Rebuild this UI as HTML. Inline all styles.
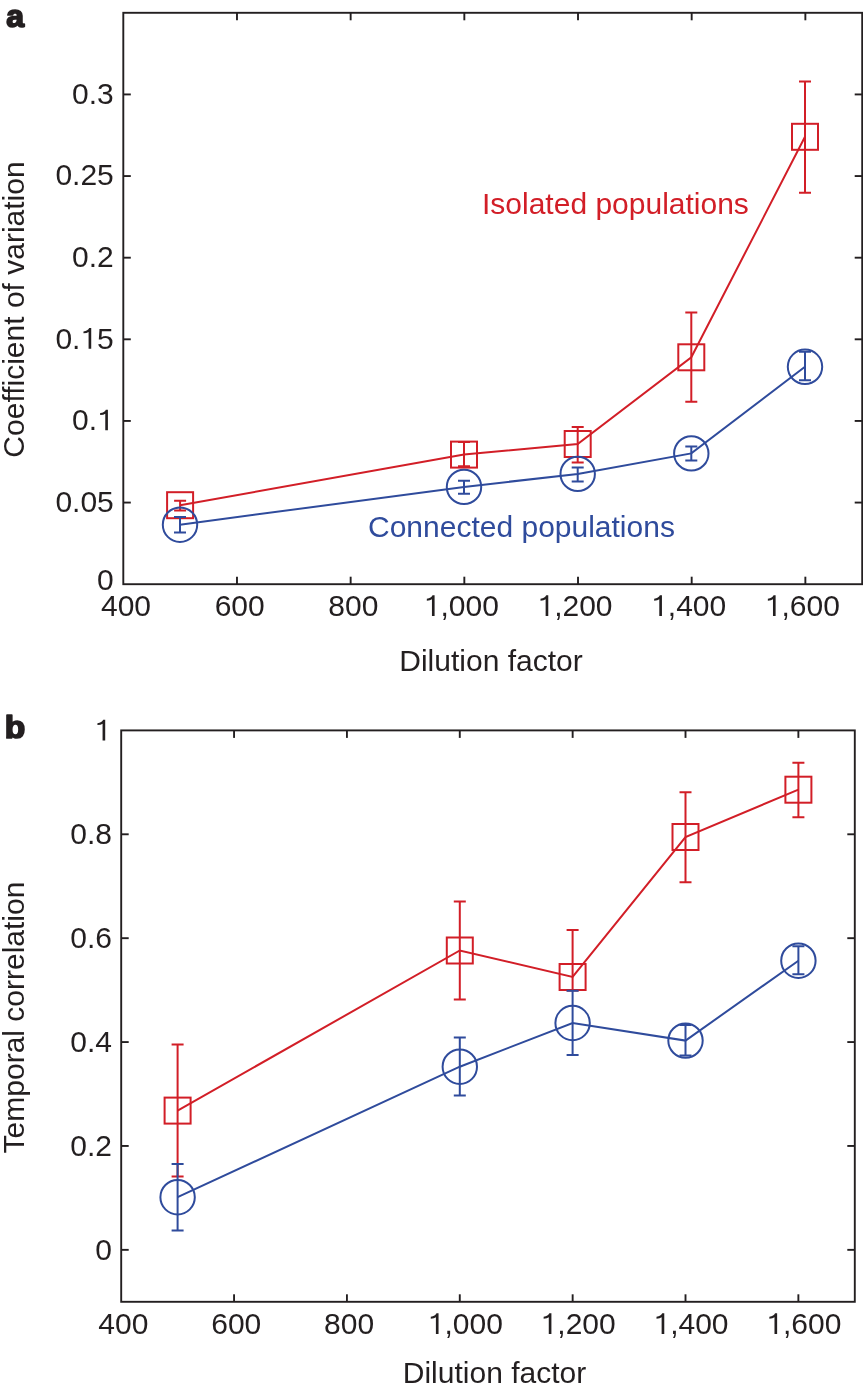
<!DOCTYPE html>
<html><head><meta charset="utf-8"><style>
html,body{margin:0;padding:0;background:#fff;}
body{width:863px;height:1389px;overflow:hidden;}
svg{display:block;will-change:transform;}
.one{fill-opacity:0;}
.t{font-family:"Liberation Sans",sans-serif;font-size:30px;fill:#231f20;}
.p{font-family:"Liberation Sans",sans-serif;font-size:30.5px;font-weight:bold;fill:#231f20;stroke:#231f20;stroke-width:1.7px;stroke-linejoin:round;}
</style></head><body>
<svg width="863" height="1389" viewBox="0 0 863 1389">
<rect width="863" height="1389" fill="#fff"/>
<rect x="123.3" y="12.8" width="738.9000000000001" height="571.4000000000001" fill="none" stroke="#231f20" stroke-width="1.9"/>
<line x1="236.98" y1="584.2" x2="236.98" y2="576.7" stroke="#231f20" stroke-width="1.9"/>
<line x1="236.98" y1="12.8" x2="236.98" y2="20.3" stroke="#231f20" stroke-width="1.9"/>
<line x1="350.65" y1="584.2" x2="350.65" y2="576.7" stroke="#231f20" stroke-width="1.9"/>
<line x1="350.65" y1="12.8" x2="350.65" y2="20.3" stroke="#231f20" stroke-width="1.9"/>
<line x1="464.33" y1="584.2" x2="464.33" y2="576.7" stroke="#231f20" stroke-width="1.9"/>
<line x1="464.33" y1="12.8" x2="464.33" y2="20.3" stroke="#231f20" stroke-width="1.9"/>
<line x1="578.01" y1="584.2" x2="578.01" y2="576.7" stroke="#231f20" stroke-width="1.9"/>
<line x1="578.01" y1="12.8" x2="578.01" y2="20.3" stroke="#231f20" stroke-width="1.9"/>
<line x1="691.68" y1="584.2" x2="691.68" y2="576.7" stroke="#231f20" stroke-width="1.9"/>
<line x1="691.68" y1="12.8" x2="691.68" y2="20.3" stroke="#231f20" stroke-width="1.9"/>
<line x1="805.36" y1="584.2" x2="805.36" y2="576.7" stroke="#231f20" stroke-width="1.9"/>
<line x1="805.36" y1="12.8" x2="805.36" y2="20.3" stroke="#231f20" stroke-width="1.9"/>
<line x1="123.3" y1="502.57" x2="130.8" y2="502.57" stroke="#231f20" stroke-width="1.9"/>
<line x1="862.2" y1="502.57" x2="854.7" y2="502.57" stroke="#231f20" stroke-width="1.9"/>
<line x1="123.3" y1="420.94" x2="130.8" y2="420.94" stroke="#231f20" stroke-width="1.9"/>
<line x1="862.2" y1="420.94" x2="854.7" y2="420.94" stroke="#231f20" stroke-width="1.9"/>
<line x1="123.3" y1="339.31" x2="130.8" y2="339.31" stroke="#231f20" stroke-width="1.9"/>
<line x1="862.2" y1="339.31" x2="854.7" y2="339.31" stroke="#231f20" stroke-width="1.9"/>
<line x1="123.3" y1="257.69" x2="130.8" y2="257.69" stroke="#231f20" stroke-width="1.9"/>
<line x1="862.2" y1="257.69" x2="854.7" y2="257.69" stroke="#231f20" stroke-width="1.9"/>
<line x1="123.3" y1="176.06" x2="130.8" y2="176.06" stroke="#231f20" stroke-width="1.9"/>
<line x1="862.2" y1="176.06" x2="854.7" y2="176.06" stroke="#231f20" stroke-width="1.9"/>
<line x1="123.3" y1="94.43" x2="130.8" y2="94.43" stroke="#231f20" stroke-width="1.9"/>
<line x1="862.2" y1="94.43" x2="854.7" y2="94.43" stroke="#231f20" stroke-width="1.9"/>
<text x="126.00" y="616" text-anchor="middle" class="t">400</text>
<text x="239.68" y="616" text-anchor="middle" class="t">600</text>
<text x="353.35" y="616" text-anchor="middle" class="t">800</text>
<text x="461.33" y="616" text-anchor="middle" class="t"><tspan class="one">1</tspan>,000</text>
<text x="575.01" y="616" text-anchor="middle" class="t"><tspan class="one">1</tspan>,200</text>
<text x="688.68" y="616" text-anchor="middle" class="t"><tspan class="one">1</tspan>,400</text>
<text x="802.36" y="616" text-anchor="middle" class="t"><tspan class="one">1</tspan>,600</text>
<text x="113.8" y="589.60" text-anchor="end" class="t">0</text>
<text x="113.8" y="511.97" text-anchor="end" class="t">0.05</text>
<text x="113.8" y="430.34" text-anchor="end" class="t">0.<tspan class="one">1</tspan></text>
<text x="113.8" y="348.71" text-anchor="end" class="t">0.<tspan class="one">1</tspan>5</text>
<text x="113.8" y="267.09" text-anchor="end" class="t">0.2</text>
<text x="113.8" y="185.46" text-anchor="end" class="t">0.25</text>
<text x="113.8" y="103.83" text-anchor="end" class="t">0.3</text>
<text x="0" y="0" transform="translate(24.3,309.5) rotate(-90)" text-anchor="middle" class="t">Coefficient of variation</text>
<path d="M180.10,505.20 L464.00,454.60 L577.70,444.00 L691.30,357.30 L805.00,136.80" fill="none" stroke="#d21e27" stroke-width="2.0" stroke-linejoin="miter"/>
<path d="M180.10,500.70V510.60M174.10,500.70H186.10M174.10,510.60H186.10" fill="none" stroke="#d21e27" stroke-width="2.0"/>
<rect x="167.10" y="492.20" width="26.00" height="26.00" fill="none" stroke="#d21e27" stroke-width="2.0"/>
<path d="M464.00,442.00V466.30M458.00,442.00H470.00M458.00,466.30H470.00" fill="none" stroke="#d21e27" stroke-width="2.0"/>
<rect x="451.00" y="441.60" width="26.00" height="26.00" fill="none" stroke="#d21e27" stroke-width="2.0"/>
<path d="M577.70,427.00V462.40M571.70,427.00H583.70M571.70,462.40H583.70" fill="none" stroke="#d21e27" stroke-width="2.0"/>
<rect x="564.70" y="431.00" width="26.00" height="26.00" fill="none" stroke="#d21e27" stroke-width="2.0"/>
<path d="M691.30,312.60V401.70M685.30,312.60H697.30M685.30,401.70H697.30" fill="none" stroke="#d21e27" stroke-width="2.0"/>
<rect x="678.30" y="344.30" width="26.00" height="26.00" fill="none" stroke="#d21e27" stroke-width="2.0"/>
<path d="M805.00,81.50V192.80M799.00,81.50H811.00M799.00,192.80H811.00" fill="none" stroke="#d21e27" stroke-width="2.0"/>
<rect x="792.00" y="123.80" width="26.00" height="26.00" fill="none" stroke="#d21e27" stroke-width="2.0"/>
<path d="M180.00,524.70 L464.00,486.90 L577.70,473.90 L691.30,453.40 L805.00,366.80" fill="none" stroke="#2f4b9c" stroke-width="2.0" stroke-linejoin="miter"/>
<path d="M180.00,517.00V532.60M174.00,517.00H186.00M174.00,532.60H186.00" fill="none" stroke="#2f4b9c" stroke-width="2.0"/>
<circle cx="180.00" cy="524.70" r="17.2" fill="none" stroke="#2f4b9c" stroke-width="2.0"/>
<path d="M464.00,480.70V493.70M458.00,480.70H470.00M458.00,493.70H470.00" fill="none" stroke="#2f4b9c" stroke-width="2.0"/>
<circle cx="464.00" cy="486.90" r="17.2" fill="none" stroke="#2f4b9c" stroke-width="2.0"/>
<path d="M577.70,467.50V481.40M571.70,467.50H583.70M571.70,481.40H583.70" fill="none" stroke="#2f4b9c" stroke-width="2.0"/>
<circle cx="577.70" cy="473.90" r="17.2" fill="none" stroke="#2f4b9c" stroke-width="2.0"/>
<path d="M691.30,446.60V460.40M685.30,446.60H697.30M685.30,460.40H697.30" fill="none" stroke="#2f4b9c" stroke-width="2.0"/>
<circle cx="691.30" cy="453.40" r="17.2" fill="none" stroke="#2f4b9c" stroke-width="2.0"/>
<path d="M805.00,351.70V380.30M799.00,351.70H811.00M799.00,380.30H811.00" fill="none" stroke="#2f4b9c" stroke-width="2.0"/>
<circle cx="805.00" cy="366.80" r="17.2" fill="none" stroke="#2f4b9c" stroke-width="2.0"/>
<rect x="121.2" y="730.4" width="733.5999999999999" height="571.4" fill="none" stroke="#231f20" stroke-width="1.9"/>
<line x1="234.06" y1="1301.8" x2="234.06" y2="1294.3" stroke="#231f20" stroke-width="1.9"/>
<line x1="234.06" y1="730.4" x2="234.06" y2="737.9" stroke="#231f20" stroke-width="1.9"/>
<line x1="346.92" y1="1301.8" x2="346.92" y2="1294.3" stroke="#231f20" stroke-width="1.9"/>
<line x1="346.92" y1="730.4" x2="346.92" y2="737.9" stroke="#231f20" stroke-width="1.9"/>
<line x1="459.78" y1="1301.8" x2="459.78" y2="1294.3" stroke="#231f20" stroke-width="1.9"/>
<line x1="459.78" y1="730.4" x2="459.78" y2="737.9" stroke="#231f20" stroke-width="1.9"/>
<line x1="572.65" y1="1301.8" x2="572.65" y2="1294.3" stroke="#231f20" stroke-width="1.9"/>
<line x1="572.65" y1="730.4" x2="572.65" y2="737.9" stroke="#231f20" stroke-width="1.9"/>
<line x1="685.51" y1="1301.8" x2="685.51" y2="1294.3" stroke="#231f20" stroke-width="1.9"/>
<line x1="685.51" y1="730.4" x2="685.51" y2="737.9" stroke="#231f20" stroke-width="1.9"/>
<line x1="798.37" y1="1301.8" x2="798.37" y2="1294.3" stroke="#231f20" stroke-width="1.9"/>
<line x1="798.37" y1="730.4" x2="798.37" y2="737.9" stroke="#231f20" stroke-width="1.9"/>
<line x1="121.2" y1="1249.85" x2="128.7" y2="1249.85" stroke="#231f20" stroke-width="1.9"/>
<line x1="854.8" y1="1249.85" x2="847.3" y2="1249.85" stroke="#231f20" stroke-width="1.9"/>
<line x1="121.2" y1="1145.96" x2="128.7" y2="1145.96" stroke="#231f20" stroke-width="1.9"/>
<line x1="854.8" y1="1145.96" x2="847.3" y2="1145.96" stroke="#231f20" stroke-width="1.9"/>
<line x1="121.2" y1="1042.07" x2="128.7" y2="1042.07" stroke="#231f20" stroke-width="1.9"/>
<line x1="854.8" y1="1042.07" x2="847.3" y2="1042.07" stroke="#231f20" stroke-width="1.9"/>
<line x1="121.2" y1="938.18" x2="128.7" y2="938.18" stroke="#231f20" stroke-width="1.9"/>
<line x1="854.8" y1="938.18" x2="847.3" y2="938.18" stroke="#231f20" stroke-width="1.9"/>
<line x1="121.2" y1="834.29" x2="128.7" y2="834.29" stroke="#231f20" stroke-width="1.9"/>
<line x1="854.8" y1="834.29" x2="847.3" y2="834.29" stroke="#231f20" stroke-width="1.9"/>
<text x="123.40" y="1334" text-anchor="middle" class="t">400</text>
<text x="236.26" y="1334" text-anchor="middle" class="t">600</text>
<text x="349.12" y="1334" text-anchor="middle" class="t">800</text>
<text x="465.28" y="1334" text-anchor="middle" class="t"><tspan class="one">1</tspan>,000</text>
<text x="578.15" y="1334" text-anchor="middle" class="t"><tspan class="one">1</tspan>,200</text>
<text x="691.01" y="1334" text-anchor="middle" class="t"><tspan class="one">1</tspan>,400</text>
<text x="803.87" y="1334" text-anchor="middle" class="t"><tspan class="one">1</tspan>,600</text>
<text x="112" y="1259.85" text-anchor="end" class="t">0</text>
<text x="112" y="1155.96" text-anchor="end" class="t">0.2</text>
<text x="112" y="1052.07" text-anchor="end" class="t">0.4</text>
<text x="112" y="948.18" text-anchor="end" class="t">0.6</text>
<text x="112" y="844.29" text-anchor="end" class="t">0.8</text>
<text x="111.1" y="740.40" text-anchor="end" class="t"><tspan class="one">1</tspan></text>
<text x="0" y="0" transform="translate(24.2,1017.5) rotate(-90)" text-anchor="middle" class="t">Temporal correlation</text>
<path d="M177.60,1110.60 L459.80,950.50 L572.60,977.00 L685.50,837.00 L798.40,789.70" fill="none" stroke="#d21e27" stroke-width="2.0" stroke-linejoin="miter"/>
<path d="M177.60,1044.60V1176.60M171.60,1044.60H183.60M171.60,1176.60H183.60" fill="none" stroke="#d21e27" stroke-width="2.0"/>
<rect x="164.60" y="1097.60" width="26.00" height="26.00" fill="none" stroke="#d21e27" stroke-width="2.0"/>
<path d="M459.80,901.60V999.40M453.80,901.60H465.80M453.80,999.40H465.80" fill="none" stroke="#d21e27" stroke-width="2.0"/>
<rect x="446.80" y="937.50" width="26.00" height="26.00" fill="none" stroke="#d21e27" stroke-width="2.0"/>
<path d="M572.60,929.90V990.60M566.60,929.90H578.60M566.60,990.60H578.60" fill="none" stroke="#d21e27" stroke-width="2.0"/>
<rect x="559.60" y="964.00" width="26.00" height="26.00" fill="none" stroke="#d21e27" stroke-width="2.0"/>
<path d="M685.50,792.20V882.30M679.50,792.20H691.50M679.50,882.30H691.50" fill="none" stroke="#d21e27" stroke-width="2.0"/>
<rect x="672.50" y="824.00" width="26.00" height="26.00" fill="none" stroke="#d21e27" stroke-width="2.0"/>
<path d="M798.40,762.70V817.20M792.40,762.70H804.40M792.40,817.20H804.40" fill="none" stroke="#d21e27" stroke-width="2.0"/>
<rect x="785.40" y="776.70" width="26.00" height="26.00" fill="none" stroke="#d21e27" stroke-width="2.0"/>
<path d="M177.60,1197.20 L459.80,1066.70 L572.60,1023.00 L685.50,1040.60 L798.40,960.70" fill="none" stroke="#2f4b9c" stroke-width="2.0" stroke-linejoin="miter"/>
<path d="M177.60,1164.00V1230.60M171.60,1164.00H183.60M171.60,1230.60H183.60" fill="none" stroke="#2f4b9c" stroke-width="2.0"/>
<circle cx="177.60" cy="1197.20" r="17.2" fill="none" stroke="#2f4b9c" stroke-width="2.0"/>
<path d="M459.80,1037.60V1095.60M453.80,1037.60H465.80M453.80,1095.60H465.80" fill="none" stroke="#2f4b9c" stroke-width="2.0"/>
<circle cx="459.80" cy="1066.70" r="17.2" fill="none" stroke="#2f4b9c" stroke-width="2.0"/>
<path d="M572.60,990.80V1055.00M566.60,990.80H578.60M566.60,1055.00H578.60" fill="none" stroke="#2f4b9c" stroke-width="2.0"/>
<circle cx="572.60" cy="1023.00" r="17.2" fill="none" stroke="#2f4b9c" stroke-width="2.0"/>
<path d="M685.50,1025.10V1055.40M679.50,1025.10H691.50M679.50,1055.40H691.50" fill="none" stroke="#2f4b9c" stroke-width="2.0"/>
<circle cx="685.50" cy="1040.60" r="17.2" fill="none" stroke="#2f4b9c" stroke-width="2.0"/>
<path d="M798.40,946.30V974.30M792.40,946.30H804.40M792.40,974.30H804.40" fill="none" stroke="#2f4b9c" stroke-width="2.0"/>
<circle cx="798.40" cy="960.70" r="17.2" fill="none" stroke="#2f4b9c" stroke-width="2.0"/>
<text x="491" y="670.5" text-anchor="middle" class="t">Dilution factor</text>
<text x="494.5" y="1383" text-anchor="middle" class="t">Dilution factor</text>
<text x="482" y="213.6" class="t" fill="#d21e27" style="fill:#d21e27">Isolated populations</text>
<text x="368" y="536.6" class="t" style="fill:#2f4b9c">Connected populations</text>
<text transform="translate(6.3,27.2) scale(1.05,1)" class="p">a</text>
<text transform="translate(4.8,738) scale(1.1,1)" class="p">b</text>
<path d="M431.95,616.00L434.59,616.00L434.59,595.36L432.55,595.36Q431.35,598.00 426.82,598.75L426.82,600.64Q430.45,600.43 431.95,599.29Z" fill="#231f20"/><path d="M545.63,616.00L548.27,616.00L548.27,595.36L546.23,595.36Q545.03,598.00 540.50,598.75L540.50,600.64Q544.13,600.43 545.63,599.29Z" fill="#231f20"/><path d="M659.30,616.00L661.94,616.00L661.94,595.36L659.90,595.36Q658.70,598.00 654.17,598.75L654.17,600.64Q657.80,600.43 659.30,599.29Z" fill="#231f20"/><path d="M772.98,616.00L775.62,616.00L775.62,595.36L773.58,595.36Q772.38,598.00 767.85,598.75L767.85,600.64Q771.48,600.43 772.98,599.29Z" fill="#231f20"/><path d="M105.27,430.34L107.91,430.34L107.91,409.70L105.87,409.70Q104.67,412.34 100.14,413.09L100.14,414.98Q103.77,414.77 105.27,413.63Z" fill="#231f20"/><path d="M88.59,348.71L91.23,348.71L91.23,328.07L89.19,328.07Q87.99,330.71 83.46,331.46L83.46,333.35Q87.09,333.14 88.59,332.00Z" fill="#231f20"/><path d="M435.90,1334.00L438.54,1334.00L438.54,1313.36L436.50,1313.36Q435.30,1316.00 430.77,1316.75L430.77,1318.64Q434.40,1318.43 435.90,1317.29Z" fill="#231f20"/><path d="M548.77,1334.00L551.41,1334.00L551.41,1313.36L549.37,1313.36Q548.17,1316.00 543.64,1316.75L543.64,1318.64Q547.27,1318.43 548.77,1317.29Z" fill="#231f20"/><path d="M661.63,1334.00L664.27,1334.00L664.27,1313.36L662.23,1313.36Q661.03,1316.00 656.50,1316.75L656.50,1318.64Q660.13,1318.43 661.63,1317.29Z" fill="#231f20"/><path d="M774.49,1334.00L777.13,1334.00L777.13,1313.36L775.09,1313.36Q773.89,1316.00 769.36,1316.75L769.36,1318.64Q772.99,1318.43 774.49,1317.29Z" fill="#231f20"/><path d="M102.57,740.40L105.21,740.40L105.21,719.76L103.17,719.76Q101.97,722.40 97.44,723.15L97.44,725.04Q101.07,724.83 102.57,723.69Z" fill="#231f20"/>
</svg>
</body></html>
